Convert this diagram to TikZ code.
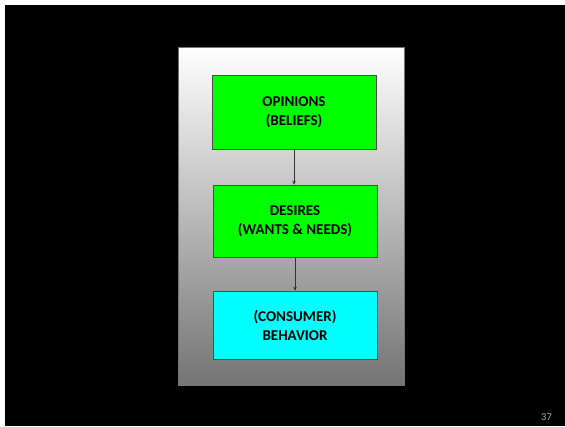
\documentclass[tikz,border=0pt]{standalone}
\usepackage{fontspec}
\setmainfont{Carlito}
\usetikzlibrary{arrows.meta}
\definecolor{panelbottom}{HTML}{747474}
\definecolor{boxgreen}{HTML}{00FF00}
\definecolor{boxcyan}{HTML}{00FFFF}
\definecolor{numgray}{HTML}{A8A8A8}
\tikzset{
  stage/.style={draw=black!70, line width=0.6pt, align=center,
    font=\bfseries\fontsize{15}{19}\selectfont, minimum width=164pt, inner sep=0pt},
  flow/.style={draw=black!80, line width=0.6pt, -{Stealth[length=4pt,width=3.5pt]}}
}
\begin{document}
\begin{tikzpicture}[x=1pt,y=-1pt]
  % page and slide background
  \fill[white] (0,0) rectangle (565,426);
  \fill[black] (5,5) rectangle (565,426);
  \useasboundingbox (0,0) rectangle (565,426);
  % gradient panel
  \shade[top color=white, bottom color=panelbottom] (178,47) rectangle (404,385);
  \draw[black!55, line width=0.6pt] (178,47) rectangle (404,385);
  % stages
  \node[stage, fill=boxgreen, minimum height=74pt] (opinions) at (294,112) {OPINIONS\\(BELIEFS)};
  \node[stage, fill=boxgreen, minimum height=72pt] (desires) at (295,221) {DESIRES\\(WANTS \& NEEDS)};
  \node[stage, fill=boxcyan, minimum height=68pt] (behavior) at (295,325) {(CONSUMER)\\BEHAVIOR};
  % connectors
  \draw[flow] (opinions.south) -- (desires.north -| opinions.south);
  \draw[flow] (desires.south) -- (behavior.north);
  % slide number
  \node[text=numgray, font=\fontsize{10.5}{12}\selectfont, inner sep=0pt] (pagenum) at (546.5,417) {37};
\end{tikzpicture}
\end{document}
